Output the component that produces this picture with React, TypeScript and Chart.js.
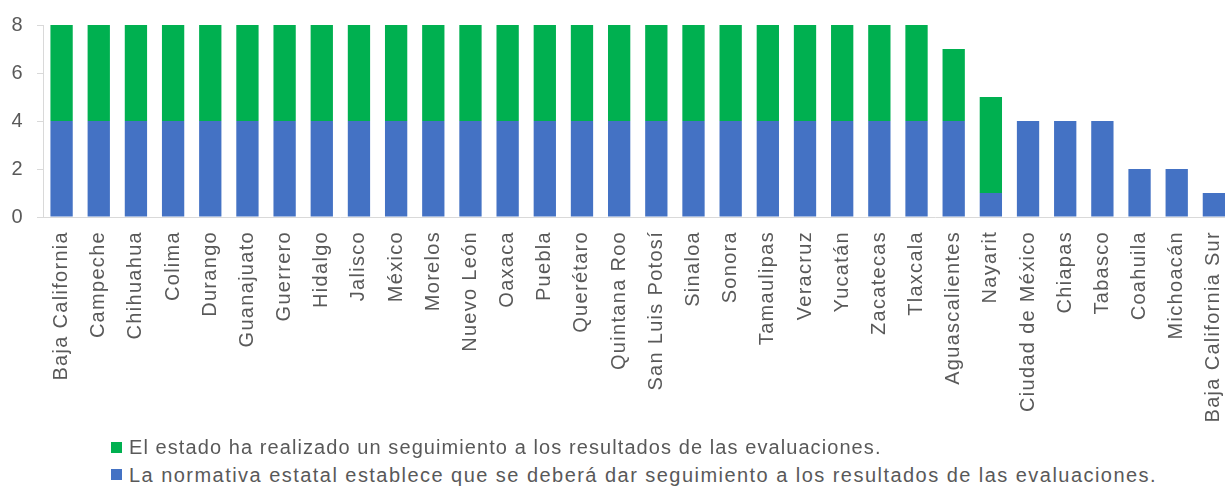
import React, { useEffect, useRef } from "react";
import { Chart, registerables } from "chart.js";

Chart.register(...registerables);

const categories = [
  "Baja California", "Campeche", "Chihuahua", "Colima", "Durango", "Guanajuato",
  "Guerrero", "Hidalgo", "Jalisco", "México", "Morelos", "Nuevo León", "Oaxaca",
  "Puebla", "Querétaro", "Quintana Roo", "San Luis Potosí", "Sinaloa", "Sonora",
  "Tamaulipas", "Veracruz", "Yucatán", "Zacatecas", "Tlaxcala", "Aguascalientes",
  "Nayarit", "Ciudad de México", "Chiapas", "Tabasco", "Coahuila", "Michoacán",
  "Baja California Sur",
];

const normativa = [
  4, 4, 4, 4, 4, 4, 4, 4, 4, 4, 4, 4, 4, 4, 4, 4, 4, 4, 4, 4, 4, 4, 4, 4, 4,
  1, 4, 4, 4, 2, 2, 1,
];

const seguimiento = [
  4, 4, 4, 4, 4, 4, 4, 4, 4, 4, 4, 4, 4, 4, 4, 4, 4, 4, 4, 4, 4, 4, 4, 4, 3,
  4, 0, 0, 0, 0, 0, 0,
];

const yMin = 0;
const yMax = 8;
const yStep = 2;

const labelSeguimiento =
  "El estado ha realizado un seguimiento a los resultados de las evaluaciones.";
const labelNormativa =
  "La normativa estatal establece que se deberá dar seguimiento a los resultados de las evaluaciones.";

const FONT = "'Liberation Sans', Arial, sans-serif";
const TEXT = "#595959";
const AXIS = "#d9d9d9";
const BLUE = "#4472C4";
const GREEN = "#00B050";
const SPACING = "1.3px";

const spacingPlugin = {
  id: "letterSpacingPlugin",
  beforeUpdate(chart: any) {
    (chart.ctx as any).letterSpacing = SPACING;
  },
  beforeLayout(chart: any) {
    (chart.ctx as any).letterSpacing = SPACING;
  },
  beforeDraw(chart: any) {
    (chart.ctx as any).letterSpacing = SPACING;
  },
};

export default function App() {
  const ref = useRef<HTMLCanvasElement | null>(null);

  useEffect(() => {
    if (!ref.current) return;
    const chart = new Chart(ref.current, {
      type: "bar",
      data: {
        labels: categories,
        datasets: [
          {
            label: labelNormativa,
            data: normativa,
            backgroundColor: BLUE,
            borderWidth: 0,
            barPercentage: 0.6,
            categoryPercentage: 1,
          },
          {
            label: labelSeguimiento,
            data: seguimiento,
            backgroundColor: GREEN,
            borderWidth: 0,
            barPercentage: 0.6,
            categoryPercentage: 1,
          },
        ],
      },
      options: {
        animation: false,
        responsive: false,
        maintainAspectRatio: false,
        layout: { padding: { left: 0, top: 23, right: 7, bottom: 0 } },
        plugins: {
          legend: { display: false },
          tooltip: { enabled: false },
        },
        scales: {
          x: {
            stacked: true,
            grid: { display: false, drawTicks: false },
            border: { display: true, color: AXIS, width: 1 },
            ticks: {
              autoSkip: false,
              minRotation: 90,
              maxRotation: 90,
              padding: 14,
              color: TEXT,
              font: { family: FONT, size: 20 },
            },
            afterFit: (s: any) => {
              s.height = 223;
            },
          },
          y: {
            stacked: true,
            min: yMin,
            max: yMax,
            ticks: {
              stepSize: yStep,
              padding: 13,
              color: TEXT,
              font: { family: FONT, size: 20 },
            },
            grid: {
              display: true,
              drawOnChartArea: false,
              drawTicks: true,
              tickLength: 6,
              color: AXIS,
            },
            border: { display: true, color: AXIS, width: 1 },
            afterFit: (s: any) => {
              s.width = 43;
            },
          },
        },
      },
      plugins: [spacingPlugin],
    });
    return () => chart.destroy();
  }, []);

  const textStyle: React.CSSProperties = {
    position: "absolute",
    fontFamily: FONT,
    fontSize: "20px",
    lineHeight: "22px",
    color: TEXT,
    whiteSpace: "nowrap",
  };

  return (
    <div
      style={{
        position: "fixed",
        left: 0,
        top: 0,
        width: 1225,
        height: 488,
        overflow: "hidden",
        background: "#ffffff",
      }}
    >
      <canvas
        ref={ref}
        width={1252}
        height={440}
        style={{ position: "absolute", left: 0, top: 0, width: 1252, height: 440 }}
      />
      <span
        style={{ position: "absolute", left: 111, top: 442, width: 11, height: 11, background: GREEN }}
      />
      <span style={{ ...textStyle, left: 129, top: 436, letterSpacing: "1.08px" }}>
        {labelSeguimiento}
      </span>
      <span
        style={{ position: "absolute", left: 111, top: 469, width: 11, height: 11, background: BLUE }}
      />
      <span style={{ ...textStyle, left: 129, top: 463.5, letterSpacing: "1.46px" }}>
        {labelNormativa}
      </span>
    </div>
  );
}
